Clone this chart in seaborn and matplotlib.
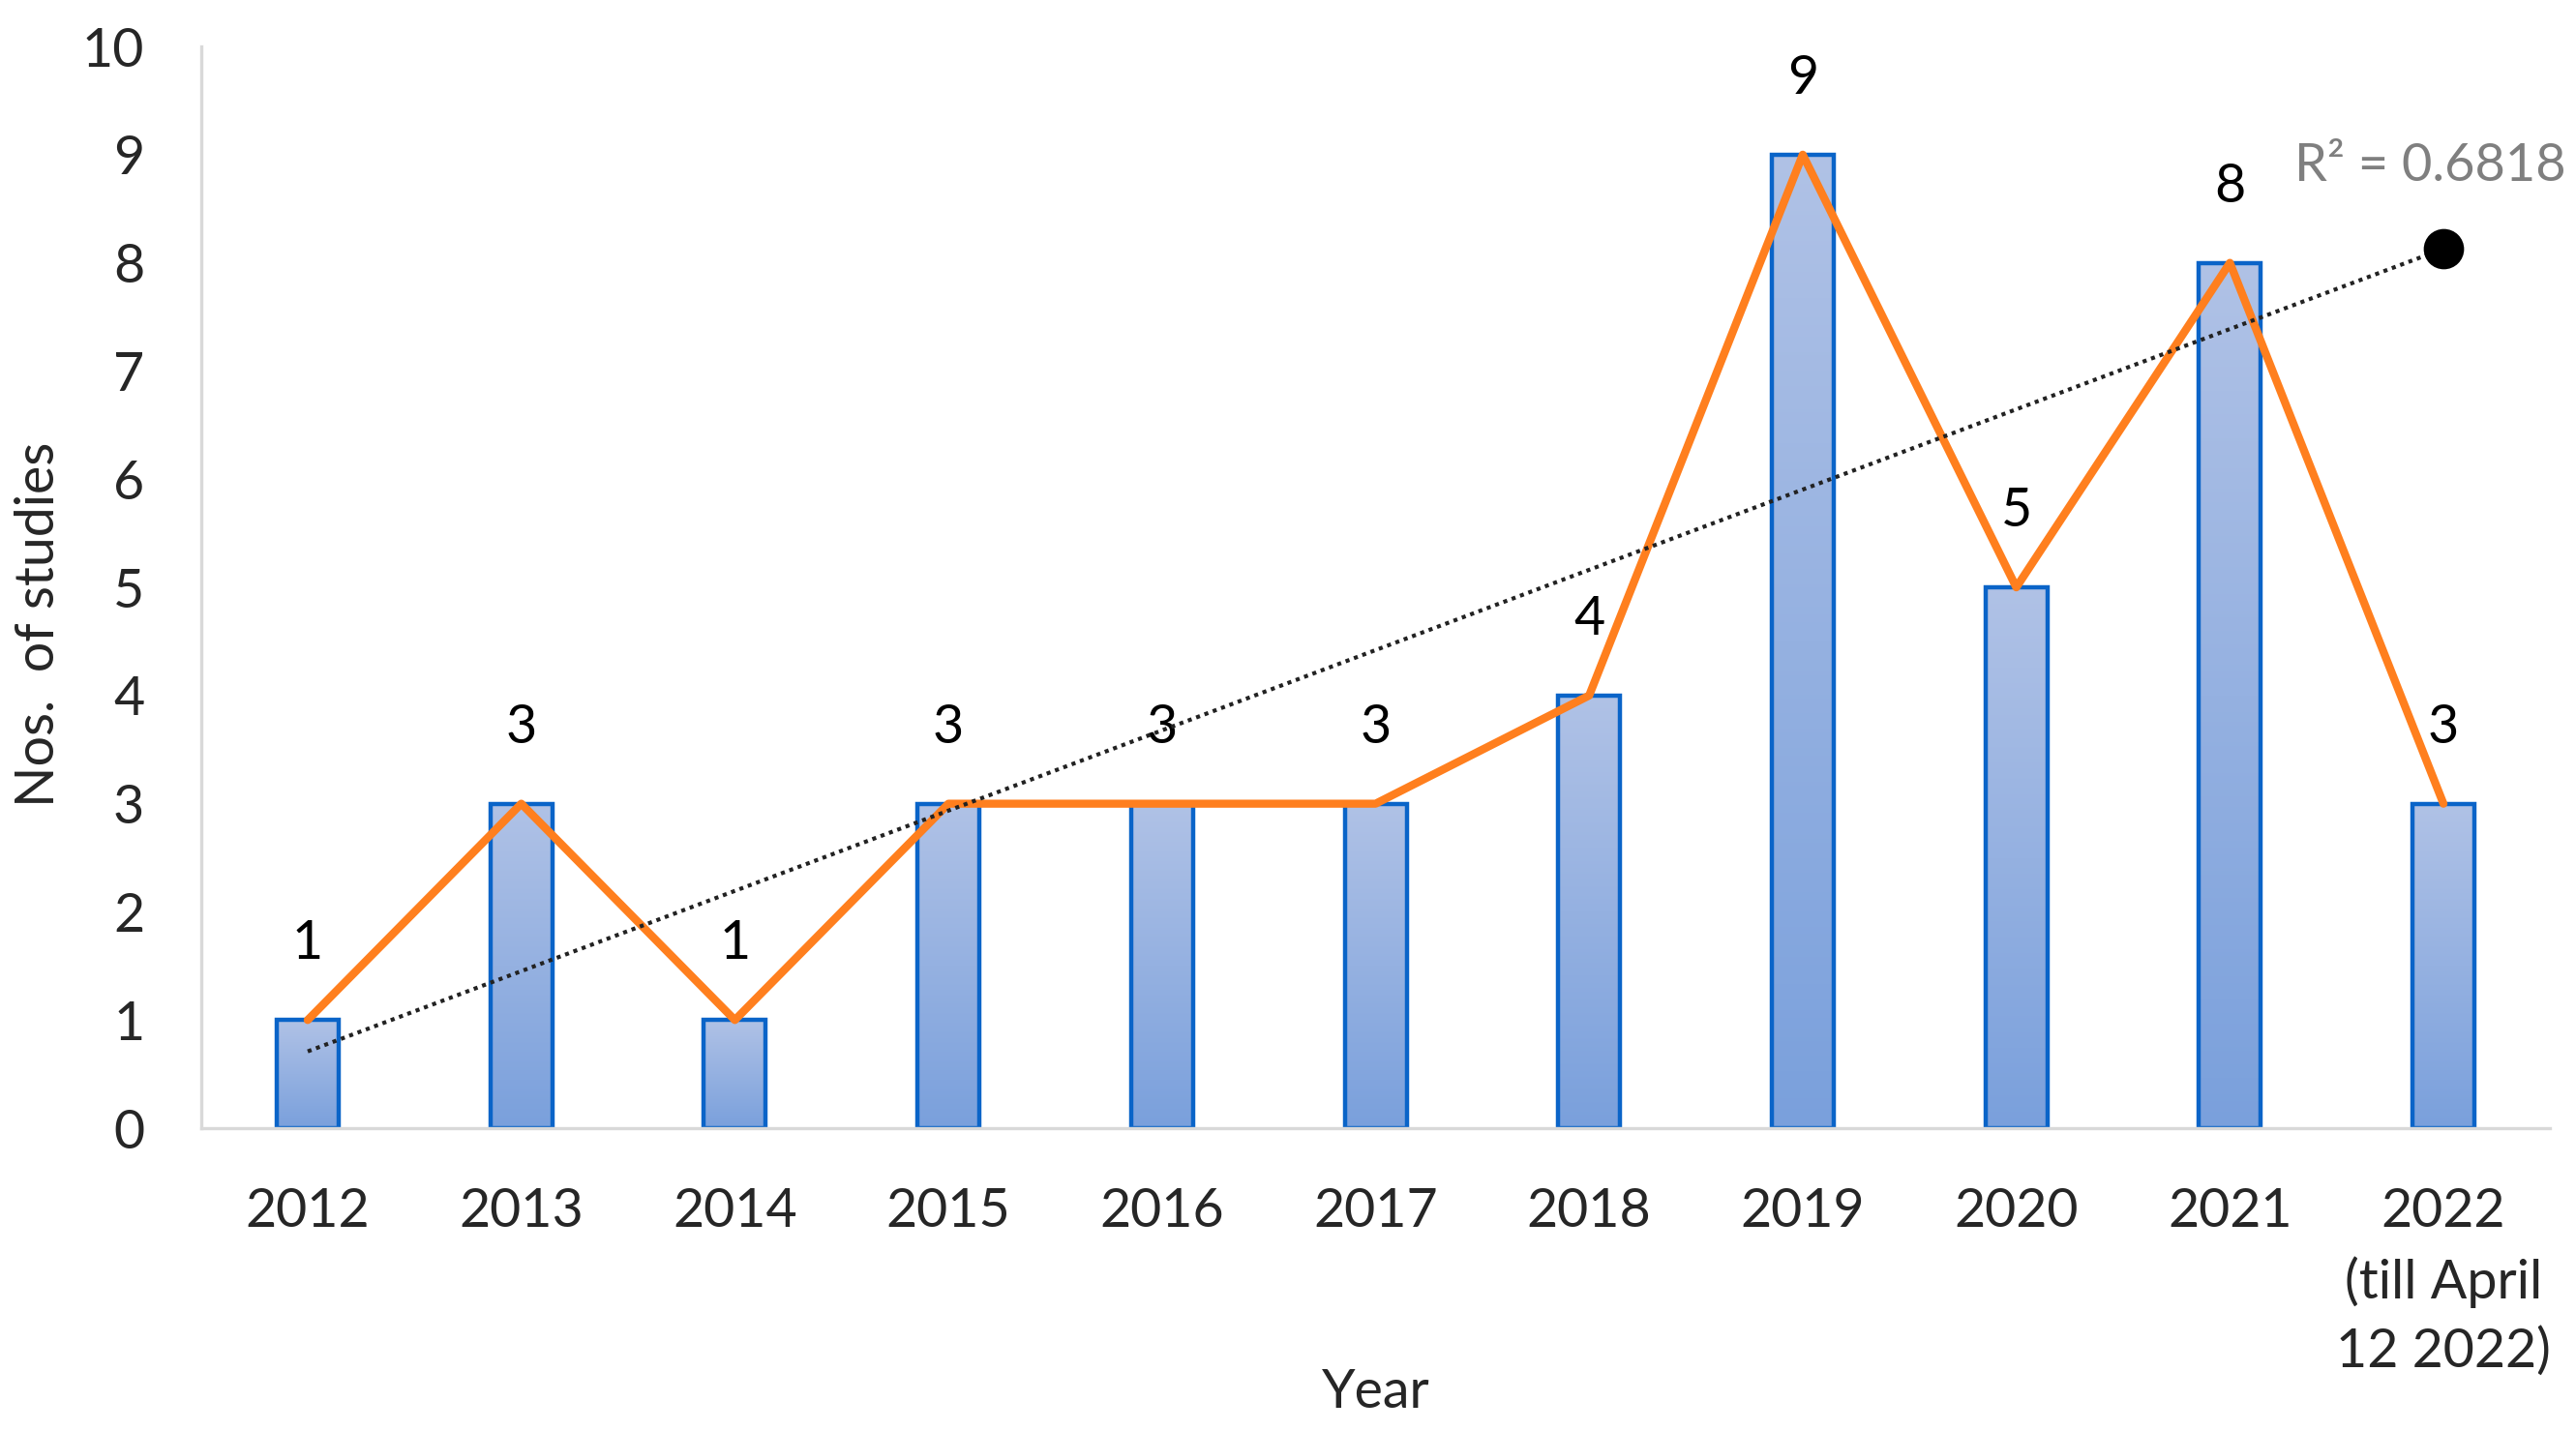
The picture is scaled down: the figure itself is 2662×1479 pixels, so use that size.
import numpy as np
import matplotlib
matplotlib.use("Agg")
import matplotlib.pyplot as plt
import seaborn as sns
from matplotlib.colors import LinearSegmentedColormap

# data
year_labels = ["2012", "2013", "2014", "2015", "2016", "2017", "2018",
               "2019", "2020", "2021", "2022\n(till April\n12 2022)"]
study_counts = [1, 3, 1, 3, 3, 3, 4, 9, 5, 8, 3]
trend_values = [0.71, 8.13]   # dotted trend line at first and last year
r2_text = "R² = 0.6818"

sns.set_theme(style="white")
plt.rcParams["font.family"] = ["Lato", "DejaVu Sans"]

fig, ax = plt.subplots(figsize=(13.31, 7.395), dpi=200)
fig.subplots_adjust(left=0.078, right=0.99, top=0.9675, bottom=0.2116)

sns.barplot(x=year_labels, y=study_counts, width=0.29, color="#8fabe0",
            edgecolor="#0a64c8", linewidth=1.6, ax=ax, zorder=2)

# vertical gradient fill inside each bar
grad_cmap = LinearSegmentedColormap.from_list("bar_grad", ["#7aa0dc", "#b0c2e6"])
grad = np.linspace(0, 1, 256).reshape(-1, 1)
for p in ax.patches:
    x0, y0 = p.get_x(), p.get_y()
    w, h = p.get_width(), p.get_height()
    ax.imshow(grad, extent=[x0, x0 + w, y0, y0 + h], origin="lower",
              aspect="auto", cmap=grad_cmap, zorder=1.5)
    p.set_facecolor("none")

n = len(study_counts)
xs = np.arange(n)
sns.lineplot(x=xs, y=study_counts, color="#ff7f1e", linewidth=3.0,
             sort=False, ax=ax, zorder=3)

# linear trend line with end marker
ax.plot([xs[0], xs[-1]], trend_values, linestyle=(0, (1, 1.2)),
        color="#222222", linewidth=1.5, zorder=4)
ax.plot(xs[-1], trend_values[-1], "o", color="black", markersize=14, zorder=5)
ax.text(xs[-1] - 0.7, 8.9, r2_text, color="#7f7f7f", fontsize=19.5,
        ha="left", va="center")

for i, v in enumerate(study_counts):
    ax.text(i, v + 0.7, str(v), ha="center", va="center", fontsize=20,
            color="black")

ax.set_xlim(-0.5, n - 0.5)
ax.set_ylim(0, 10)
ax.set_yticks(range(0, 11))
ax.tick_params(axis="y", length=0, pad=21, labelsize=20)
ax.tick_params(axis="x", length=0, pad=22, labelsize=20)
for lbl in ax.get_xticklabels():
    lbl.set_multialignment("center")
    lbl.set_linespacing(1.45)

ax.set_xlabel("Year", fontsize=20)
ax.set_ylabel("Nos.  of studies", fontsize=20)
ax.xaxis.set_label_coords(0.5, -0.222)
ax.yaxis.set_label_coords(-0.0585, 0.466)

for side in ["top", "right"]:
    ax.spines[side].set_visible(False)
for side in ["left", "bottom"]:
    ax.spines[side].set_color("#d9d9d9")
    ax.spines[side].set_linewidth(1.2)

fig.savefig("out.png", dpi=200, facecolor="white")
